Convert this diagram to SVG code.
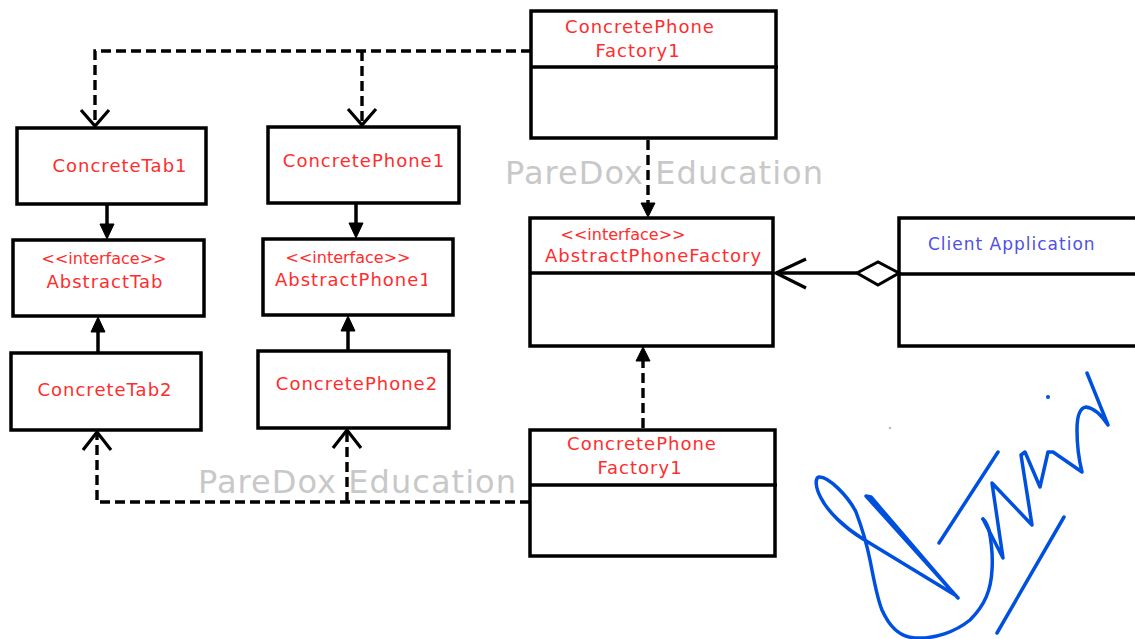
<svg xmlns="http://www.w3.org/2000/svg" width="1135" height="639" viewBox="0 0 1135 639">
<defs>
<style>
.box{fill:#fff;stroke:#000;stroke-width:3.5}
.div{stroke:#000;stroke-width:3.5}
.t{font-family:"DejaVu Sans","Liberation Sans",sans-serif;font-size:18px;fill:#ff2d2d;letter-spacing:1px}
.s{font-family:"DejaVu Sans","Liberation Sans",sans-serif;font-size:16px;fill:#ff2d2d}
.c{font-family:"DejaVu Sans","Liberation Sans",sans-serif;font-size:17px;fill:#5050e6;letter-spacing:1px}
.wm{font-family:"DejaVu Sans","Liberation Sans",sans-serif;font-size:32px;fill:#c8c8c8}
.dash{fill:none;stroke:#000;stroke-width:3.4;stroke-dasharray:10 5}
.solid{fill:none;stroke:#000;stroke-width:3.5}
.open{fill:none;stroke:#000;stroke-width:3.2}
.fill{fill:#000;stroke:#000;stroke-width:1}
.sig{fill:none;stroke:#0050e0;stroke-width:3.5;stroke-linecap:round;stroke-linejoin:round}
</style>
<clipPath id="clipAP"><rect x="260" y="260" width="167" height="40"/></clipPath>
</defs>
<rect width="1135" height="639" fill="#fff"/>

<g id="watermarks">
<text class="wm" x="505" y="184" textLength="318" lengthAdjust="spacing">PareDox Education</text>
<text class="wm" x="198" y="493" textLength="318" lengthAdjust="spacing">PareDox Education</text>
</g>

<g id="ConcreteTab1">
<rect class="box" x="17" y="128" width="189" height="76"/>
<text class="t" x="120" y="172" text-anchor="middle">ConcreteTab1</text>
</g>
<g id="ConcretePhone1">
<rect class="box" x="268" y="127" width="191" height="76"/>
<text class="t" x="364" y="167" text-anchor="middle">ConcretePhone1</text>
</g>
<g id="AbstractTab">
<rect class="box" x="13" y="240" width="191" height="76"/>
<text class="s" x="104" y="264" text-anchor="middle">&lt;&lt;interface&gt;&gt;</text>
<text class="t" x="105" y="288" text-anchor="middle">AbstractTab</text>
</g>
<g id="AbstractPhone">
<rect class="box" x="263" y="239" width="190" height="76"/>
<text class="s" x="348" y="263" text-anchor="middle">&lt;&lt;interface&gt;&gt;</text>
<text class="t" x="275" y="286" clip-path="url(#clipAP)">AbstractPhone1</text>
</g>
<g id="ConcreteTab2">
<rect class="box" x="11" y="353" width="190" height="77"/>
<text class="t" x="105" y="396" text-anchor="middle">ConcreteTab2</text>
</g>
<g id="ConcretePhone2">
<rect class="box" x="258" y="351" width="191" height="77"/>
<text class="t" x="357" y="390" text-anchor="middle">ConcretePhone2</text>
</g>
<g id="ConcretePhoneFactory1Top">
<rect class="box" x="531" y="11" width="245" height="127"/>
<line class="div" x1="531" y1="67" x2="778" y2="67"/>
<text class="t" x="640" y="33" text-anchor="middle">ConcretePhone</text>
<text class="t" x="638" y="57" text-anchor="middle">Factory1</text>
</g>
<g id="AbstractPhoneFactory">
<rect class="box" x="530" y="218" width="243" height="128"/>
<line class="div" x1="530" y1="273" x2="773" y2="273"/>
<text class="s" x="623" y="240" text-anchor="middle">&lt;&lt;interface&gt;&gt;</text>
<text class="t" x="545" y="262">AbstractPhoneFactory</text>
</g>
<g id="ClientApplication">
<rect class="box" x="899" y="218" width="250" height="128"/>
<line class="div" x1="899" y1="274" x2="1135" y2="274"/>
<text class="c" x="928" y="250">Client Application</text>
</g>
<g id="ConcretePhoneFactory1Bottom">
<rect class="box" x="530" y="430" width="245" height="126"/>
<line class="div" x1="530" y1="485" x2="777" y2="485"/>
<text class="t" x="642" y="450" text-anchor="middle">ConcretePhone</text>
<text class="t" x="640" y="474" text-anchor="middle">Factory1</text>
</g>

<g id="connectors">
<path class="dash" d="M531,51 H95 V126"/>
<path class="dash" d="M362,51 V125"/>
<polyline class="open" points="81,110 95,126 109,110"/>
<polyline class="open" points="348,109 362,125 376,109"/>
<line class="solid" x1="107" y1="204" x2="107" y2="228"/>
<polygon class="fill" points="100,224 114,224 107,239"/>
<line class="solid" x1="356" y1="203" x2="356" y2="227"/>
<polygon class="fill" points="349,223 363,223 356,238"/>
<line class="solid" x1="98" y1="353" x2="98" y2="328"/>
<polygon class="fill" points="91,332 105,332 98,317"/>
<line class="solid" x1="348" y1="351" x2="348" y2="327"/>
<polygon class="fill" points="341,331 355,331 348,316"/>
<path class="dash" d="M648,140 V206"/>
<polygon class="fill" points="641,203 655,203 648,217"/>
<path class="dash" d="M643,428 V358"/>
<polygon class="fill" points="636,361 650,361 643,347"/>
<path class="dash" d="M530,502 H97 V433"/>
<path class="dash" d="M347,502 V431"/>
<polyline class="open" points="83,450 97,432 111,450"/>
<polyline class="open" points="333,448 347,430 361,448"/>
<line class="solid" x1="776" y1="273" x2="857" y2="273"/>
<polyline class="open" points="806,259 776,273 806,288"/>
<polygon points="857,273 878,262 899,273 878,285" fill="#fff" stroke="#000" stroke-width="3"/>
</g>

<g id="signature">
<path class="sig" d="M958,598 L866,496 L871,497 L955,595 L863,539 C845,528 828,512 821,498 C815,487 815,478 819,477 C828,476 848,496 856,512 C862,528 867,545 870,560 C874,580 877,598 882,610 C890,628 900,637 915,638 C935,639 955,632 970,620 C985,605 991,590 992,570 C993,555 991,540 989,530 C987,524 985,520 983,519"/>
<path class="sig" d="M983,519 L1003,558 L992,483 L1032,525 L1021,455 L1025,452 L1040,487 L1048,452 L1053,452 L1082,472 C1079,460 1077,448 1077,430 C1077,418 1079,408 1086,407 C1095,408 1102,416 1108,425 L1087,373"/>
<line class="sig" x1="939" y1="543" x2="998" y2="452"/>
<line class="sig" x1="997" y1="633" x2="1064" y2="517"/>
<circle cx="1048" cy="397" r="2" fill="#0050e0"/>
<circle cx="890" cy="428" r="0.8" fill="#555"/>
</g>
</svg>
